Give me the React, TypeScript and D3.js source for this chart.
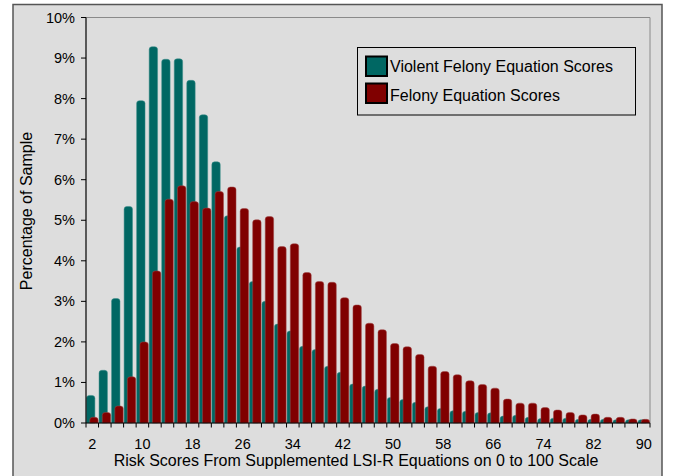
import React from "react";
import * as d3 from "d3";

const categories: number[] = d3.range(2, 92, 2);
const violentScores: number[] = [
  0.68, 1.3, 3.07, 5.34, 7.95, 9.28, 8.97, 8.98, 8.45, 7.6,
  6.44, 5.11, 4.34, 3.49, 3.0, 2.44, 2.27, 1.89, 1.81, 1.4,
  1.25, 0.96, 0.91, 0.83, 0.63, 0.58, 0.51, 0.4, 0.36, 0.3,
  0.29, 0.26, 0.25, 0.17, 0.19, 0.14, 0.11, 0.12, 0.12, 0.09,
  0.09, 0.09, 0.08, 0.08, 0.08,
];
const felonyScores: number[] = [
  0.14, 0.26, 0.42, 1.14, 2.0, 3.75, 5.52, 5.85, 5.46, 5.3,
  5.71, 5.82, 5.29, 5.01, 5.09, 4.35, 4.42, 3.71, 3.49, 3.47,
  3.09, 2.91, 2.46, 2.3, 1.96, 1.88, 1.69, 1.4, 1.27, 1.19,
  1.04, 0.95, 0.86, 0.59, 0.49, 0.49, 0.38, 0.32, 0.26, 0.2,
  0.22, 0.14, 0.14, 0.1, 0.09,
];
const yTicks: number[] = d3.range(0, 11, 1);
const xTickLabels: number[] = [2, 10, 18, 26, 34, 42, 50, 58, 66, 74, 82, 90];
const seriesNames: string[] = ["Violent Felony Equation Scores", "Felony Equation Scores"];
const colors: string[] = ["#006763", "#800000"];

const FONT = "'Liberation Sans', Arial, sans-serif";

function barPath(x: number, y: number, w: number, h: number): string {
  const r = Math.min(2.8, h, w / 2);
  const b = y + h;
  return `M${x},${b} L${x},${y + r} Q${x},${y} ${x + r},${y} L${x + w - r},${y} Q${x + w},${y} ${x + w},${y + r} L${x + w},${b} Z`;
}

export default function App() {
  const W = 673, H = 476;
  const left = 86, right = 650, top = 17.5, bottom = 423;
  const x = d3.scaleBand<number>().domain(categories).range([left, right]).padding(0);
  const y = d3.scaleLinear().domain([0, 10]).range([bottom, top]);
  const bw = x.bandwidth();
  const boundaries = d3.range(0, categories.length + 1).map((i) => left + i * bw);

  const series = [violentScores, felonyScores];
  const offsets = [0.04, 0.3];
  const widthFrac = 0.67;

  return (
    <svg width={W} height={H} style={{ position: "absolute", left: 0, top: 0 }} fontFamily={FONT}>
      <rect x={0} y={0} width={W} height={H} fill="#ffffff" />
      <rect x={13} y={4.5} width={649} height={H + 10} fill="#dddddd" stroke="#555555" strokeWidth={1.5} />
      {/* plot border */}
      <line x1={left} x2={right} y1={top} y2={top} stroke="#8a8a8a" strokeWidth={1} />
      <line x1={right} x2={right} y1={top} y2={bottom} stroke="#8a8a8a" strokeWidth={1} />
      {series.map((vals, si) => (
        <g key={si}>
          {vals.map((v, i) => {
            const x0 = (x(categories[i]) as number) + bw * offsets[si];
            const yy = y(v);
            return (
              <path
                key={i}
                d={barPath(x0, yy, bw * widthFrac, bottom - yy)}
                fill={colors[si]}
                stroke={si === 0 ? "#3d8f8b" : "#a04848"}
                strokeWidth={0.5}
              />
            );
          })}
        </g>
      ))}
      {/* axes */}
      <line x1={left} x2={left} y1={top} y2={bottom} stroke="#000" strokeWidth={1.2} />
      <line x1={left} x2={right} y1={bottom} y2={bottom} stroke="#000" strokeWidth={1.2} />
      {yTicks.map((t) => (
        <g key={t}>
          <line x1={left - 5} x2={left} y1={y(t)} y2={y(t)} stroke="#000" strokeWidth={1} />
          <text x={75} y={y(t) + 5} textAnchor="end" fontSize={14.5} fill="#000">
            {`${t}%`}
          </text>
        </g>
      ))}
      {boundaries.map((bx, i) => (
        <line key={i} x1={bx} x2={bx} y1={bottom} y2={bottom + 4.5} stroke="#000" strokeWidth={1} />
      ))}
      {xTickLabels.map((c) => (
        <text key={c} x={(x(c) as number) + bw / 2} y={449} textAnchor="middle" fontSize={14.5} fill="#000">
          {c}
        </text>
      ))}
      <text x={356} y={466} textAnchor="middle" fontSize={16} fill="#000">
        Risk Scores From Supplemented LSI-R Equations on 0 to 100 Scale
      </text>
      <text transform={`translate(31.5,211) rotate(-90)`} textAnchor="middle" fontSize={16} fill="#000">
        Percentage of Sample
      </text>
      {/* legend */}
      <rect x={357.5} y={47.5} width={278} height={67.5} fill="#dddddd" stroke="#000" strokeWidth={1} />
      {seriesNames.map((name, i) => (
        <g key={name}>
          <rect x={366} y={56.5 + i * 27} width={21} height={19.5} fill={colors[i]} stroke="#000" strokeWidth={2} />
          <text x={390} y={72.3 + i * 28.7} fontSize={16} fill="#000">
            {name}
          </text>
        </g>
      ))}
    </svg>
  );
}
